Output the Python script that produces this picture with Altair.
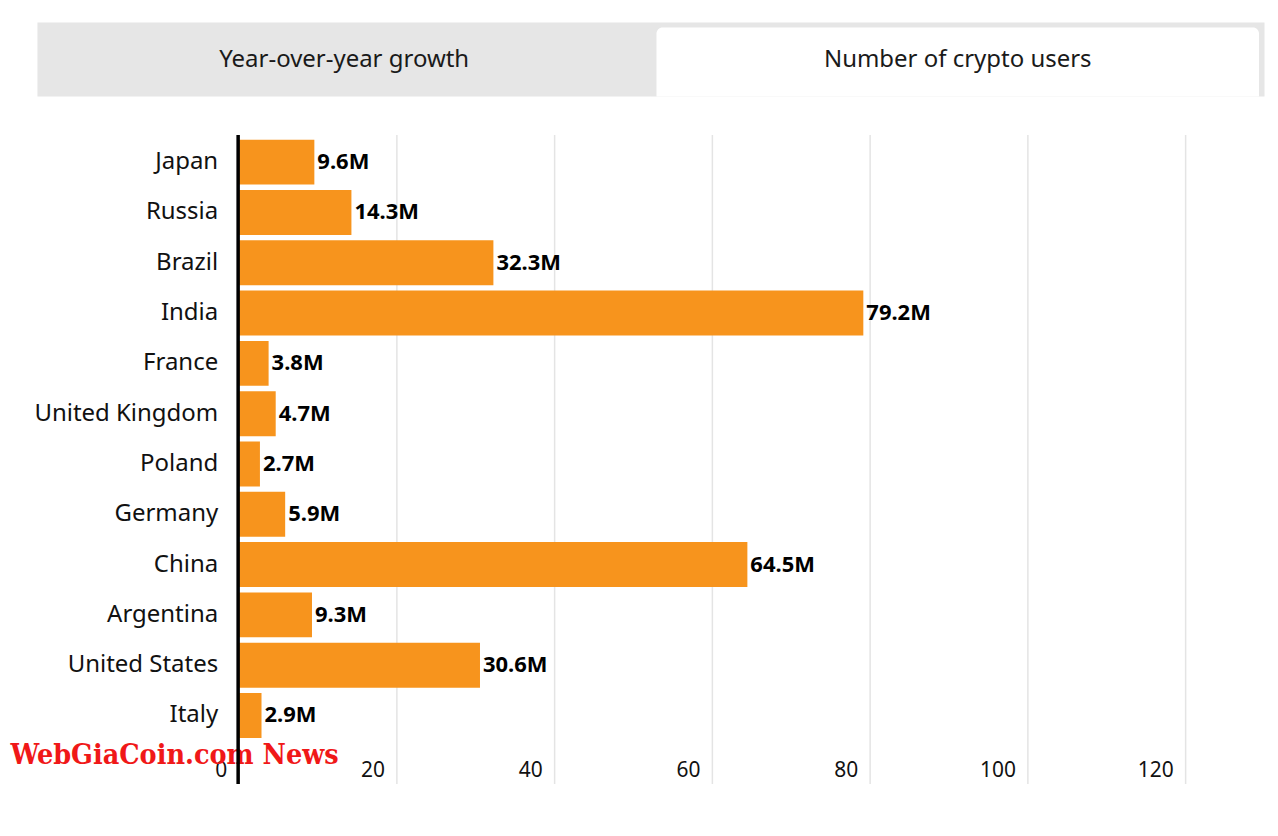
import altair as alt
import pandas as pd

# ---- data ----
countries = ["Japan", "Russia", "Brazil", "India", "France", "United Kingdom",
             "Poland", "Germany", "China", "Argentina", "United States", "Italy"]
users = [9.6, 14.3, 32.3, 79.2, 3.8, 4.7, 2.7, 5.9, 64.5, 9.3, 30.6, 2.9]
tabs = ["Year-over-year growth", "Number of crypto users"]
tab_active = [False, True]
x_ticks = [0, 20, 40, 60, 80, 100, 120]
watermark = ["WebGiaCoin.com News"]

FONT = "Noto Sans"
ORANGE = "#f7941d"
W, H = 1027, 650
TAB_H = 74

df = pd.DataFrame({"country": countries, "users": users})
tab_df = pd.DataFrame({"tab": tabs, "active": tab_active})
wm_df = pd.DataFrame({"text": watermark})

# ---- tab strip ----
tab_x = alt.X("tab:N", sort=tabs, axis=None,
              scale=alt.Scale(range=[-201.5, 1027.5], paddingInner=0, paddingOuter=0))
tab_bg = alt.Chart(tab_df).mark_bar(color="#e6e6e6").encode(
    x=tab_x, y=alt.value(0), y2=alt.value(TAB_H))
tab_sel = alt.Chart(tab_df).transform_filter("datum.active").mark_bar(
    color="white", width=alt.RelativeBandSize(0.982),
    cornerRadiusTopLeft=6, cornerRadiusTopRight=6).encode(
    x=tab_x, y=alt.value(5), y2=alt.value(TAB_H))
tab_text = alt.Chart(tab_df).mark_text(
    font=FONT, fontSize=24, color="#1a1a1a", baseline="middle", align="center").encode(
    x=tab_x, y=alt.value(TAB_H / 2), text="tab:N")
tab_chart = alt.layer(tab_bg, tab_sel, tab_text).properties(width=W, height=TAB_H)

# ---- bar chart ----
y_enc = alt.Y("country:N", sort=countries, title=None,
              scale=alt.Scale(paddingInner=0.107, paddingOuter=0.504, align=0.104),
              axis=alt.Axis(domain=True, domainColor="#000000", domainWidth=3.5,
                            ticks=False, grid=False, labelPadding=20, offset=1,
                            labelFontSize=24, labelFont=FONT, labelColor="#111111",
                            labelLimit=400, zindex=1))
x_enc = alt.X("users:Q", title=None,
              scale=alt.Scale(domain=[0, 130], nice=False),
              axis=alt.Axis(values=x_ticks, grid=True, gridColor="#e4e4e4", gridWidth=1.5,
                            domain=False, ticks=False, tickSize=0,
                            labelAlign="right", labelBaseline="alphabetic",
                            labelPadding=-7, labelOffset=-12, labelFlush=False,
                            labelFontSize=21, labelFont=FONT, labelColor="#111111"))

bars = alt.Chart(df).mark_bar(color=ORANGE).encode(x=x_enc, y=y_enc)
labels = alt.Chart(df).transform_calculate(
    label="format(datum.users, '.1f') + 'M'"
).mark_text(align="left", baseline="middle", dx=3, font=FONT, fontSize=22,
            fontWeight="bold", color="#000000").encode(
    x="users:Q", y=alt.Y("country:N", sort=countries), text="label:N")
wm = alt.Chart(wm_df).mark_text(
    align="left", baseline="middle", font="DejaVu Serif Condensed", fontSize=28.5,
    fontWeight="bold", color="#f01818").encode(
    x=alt.value(10 - 238.5), y=alt.value(756 - 134), text="text:N")

main = alt.layer(wm, bars, labels).properties(width=W, height=H)

chart = alt.vconcat(tab_chart, main, spacing=38, bounds="flush").properties(
    padding={"left": 2, "top": 14, "right": 5, "bottom": 5}
).configure_view(stroke=None)

chart.save("out.html", embed_options={"renderer": "svg", "actions": False})
